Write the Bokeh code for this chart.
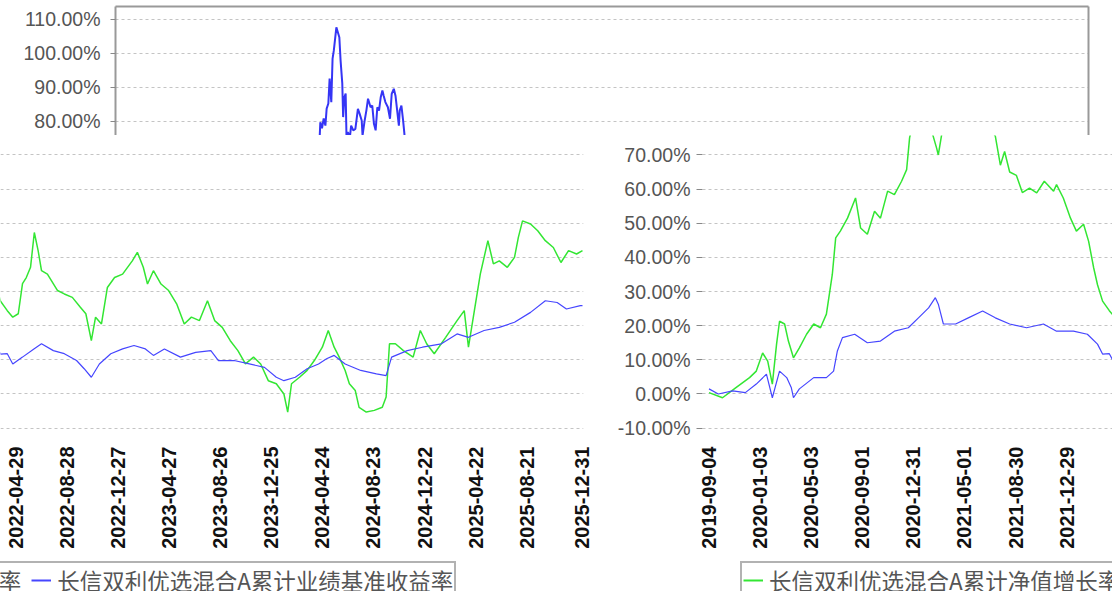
import pandas as pd
from bokeh.plotting import figure
from bokeh.layouts import column, row
from bokeh.models import (Range1d, FixedTicker, Grid, PrintfTickFormatter, LinearAxis,
                          DatetimeTickFormatter, Legend, LegendItem, ColumnDataSource)
from bokeh.embed import file_html
from bokeh.resources import INLINE

# ---------------- data ----------------
START = "2019-09-04"
NAV_NAME = "长信双利优选混合A累计净值增长率"
BM_NAME = "长信双利优选混合A累计业绩基准收益率"

tick_labels = ["2019-09-04", "2020-01-03", "2020-05-03", "2020-09-01", "2020-12-31",
               "2021-05-01", "2021-08-30", "2021-12-29", "2022-04-29", "2022-08-28",
               "2022-12-27", "2023-04-27", "2023-08-26", "2023-12-25", "2024-04-24",
               "2024-08-23", "2024-12-22", "2025-04-22", "2025-08-21", "2025-12-31"]

y_ticks = [-10, 0, 10, 20, 30, 40, 50, 60, 70]
top_ticks = [80, 90, 100, 110]

# days since START, cumulative NAV growth (%)
nav_days = [0, 32, 63, 96, 112, 127, 139, 150, 160, 167, 179, 188, 200, 214, 231, 248, 264, 278, 292, 300,
            311, 328, 347, 359, 375, 392, 406, 423, 439, 456, 468, 475, 482, 501, 525, 539, 543, 551, 584, 619,
            655, 678, 690, 700, 712, 728, 742, 759, 776, 794, 816, 823, 839, 856, 870, 887, 899, 911, 920, 932,
            948, 961, 974, 984, 993, 1003, 1012, 1021, 1029, 1043, 1067, 1083, 1102, 1121, 1134, 1147, 1157, 1171, 1185, 1202,
            1221, 1244, 1256, 1270, 1280, 1294, 1312, 1330, 1349, 1367, 1384, 1403, 1422, 1439, 1457, 1476, 1494, 1512, 1531, 1548,
            1566, 1585, 1603, 1612, 1621, 1640, 1658, 1675, 1694, 1708, 1722, 1734, 1748, 1758, 1772, 1781, 1798, 1817, 1836, 1845,
            1853, 1867, 1886, 1909, 1926, 1941, 1959, 1986, 2013, 2030, 2040, 2054, 2068, 2086, 2099, 2113, 2132, 2149, 2158, 2168,
            2187, 2204, 2222, 2241, 2259, 2277, 2296, 2310]
nav_vals = [0.4, -1.1, 1.8, 4.8, 6.7, 12.0, 9.6, 2.9, 14.6, 21.3, 20.5, 15.5, 10.6, 13.5, 17.5, 20.5, 19.4, 23.4, 35.0, 45.7,
            47.7, 51.5, 57.4, 48.6, 46.8, 53.5, 51.5, 59.4, 58.4, 62.3, 65.7, 75.0, 79.0, 82.0, 78.0, 72.0, 70.0, 76.0, 84.0, 86.0,
            80.0, 75.5, 67.0, 71.0, 65.0, 64.0, 59.0, 60.3, 58.9, 62.3, 59.4, 61.3, 57.4, 51.5, 47.7, 49.7, 44.7, 36.9, 32.0, 27.2,
            24.4, 22.5, 23.5, 32.3, 34.1, 37.1, 47.3, 42.0, 36.1, 35.1, 30.3, 29.3, 28.3, 25.4, 23.5, 15.6, 22.5, 20.5, 31.2, 34.1,
            35.1, 39.0, 41.5, 37.1, 32.2, 36.1, 32.2, 30.3, 26.4, 20.5, 22.5, 21.5, 27.3, 21.5, 19.5, 15.6, 12.7, 8.8, 10.8, 8.8,
            3.9, 3.0, 0.0, -5.3, 3.0, 4.9, 6.9, 9.8, 13.7, 18.6, 13.7, 10.8, 6.9, 3.0, 1.0, -3.9, -5.3, -4.8, -3.9, -0.9,
            14.7, 14.7, 12.7, 10.8, 18.6, 14.7, 11.8, 16.6, 21.5, 24.4, 13.7, 24.4, 35.1, 44.9, 38.1, 39.0, 37.1, 40.0, 45.8, 50.7,
            49.8, 47.8, 44.9, 42.9, 38.5, 42.0, 41.0, 42.0]

# days since START, cumulative benchmark return (%)
bm_days = [0, 22, 56, 86, 112, 136, 150, 167, 184, 195, 200, 214, 248, 278, 295, 304, 316, 345, 375, 406,
           439, 472, 496, 520, 536, 543, 555, 584, 614, 648, 678, 712, 752, 792, 823, 863, 896, 920, 932,
           948, 961, 984, 1011, 1029, 1057, 1083, 1112, 1130, 1147, 1166, 1193, 1221, 1248, 1275, 1294, 1320, 1358, 1394, 1430,
           1448, 1485, 1521, 1557, 1585, 1603, 1630, 1658, 1685, 1704, 1722, 1748, 1785, 1822, 1845, 1858, 1895, 1931, 1976, 2013,
           2040, 2077, 2113, 2149, 2187, 2222, 2250, 2272, 2305, 2310]
bm_vals = [1.5, 0.0, 0.9, 0.4, 2.9, 5.8, -1.1, 6.7, 4.8, 1.8, -1.1, 1.5, 4.8, 4.8, 6.7, 12.6, 16.5, 17.5, 15.0, 15.5,
           18.4, 19.4, 22.3, 25.2, 28.2, 26.3, 20.5, 20.5, 22.3, 24.3, 22.3, 20.5, 19.4, 20.5, 18.4, 18.4, 17.5, 14.6, 11.7,
           11.8, 8.8, 10.8, 13.2, 14.7, 12.7, 11.8, 9.8, 7.4, 4.9, 8.8, 11.8, 13.2, 14.2, 13.2, 11.3, 13.2, 10.8, 12.2, 12.7,
           9.8, 9.8, 8.8, 7.8, 4.9, 3.9, 4.9, 7.4, 8.8, 10.3, 11.3, 8.8, 6.9, 5.9, 5.4, 10.8, 12.7, 13.7, 14.7, 17.6,
           16.6, 18.6, 19.5, 21.0, 23.9, 27.3, 26.8, 24.9, 25.9, 25.9]

# upper strip: blue series (day index, %)
top_days = [483, 485, 489, 493, 497, 500, 504, 507, 511, 514, 517, 523, 530, 533, 537, 539, 542, 545, 547, 550,
            555, 558, 563, 568, 574, 578, 583, 585, 590, 594, 598, 604, 608, 612, 616, 620, 624, 628, 632, 635,
            639, 645, 650, 654, 659, 663, 667, 671, 673, 677, 681, 684, 687]
top_vals = [74.0, 79.8, 78.0, 80.9, 78.8, 83.8, 85.3, 92.6, 85.7, 98.5, 100.9, 107.7, 104.8, 97.9, 91.2, 81.3, 87.1, 88.2, 75.4, 76.9,
            75.4, 78.8, 77.4, 77.8, 83.7, 82.3, 80.3, 75.9, 80.3, 83.2, 86.7, 84.2, 84.7, 79.3, 77.4, 84.2, 83.2, 87.1, 89.1, 87.6,
            85.7, 84.2, 80.8, 88.1, 89.6, 87.6, 83.2, 78.8, 83.2, 84.7, 80.3, 76.5, 72.0]

# ---------------- styles ----------------
GREEN = "#33e633"
BLUE = "#4646ff"
GRID_C = "#c4c4c4"
LABEL_C = "#555555"
FRAME_C = "#999999"
base = pd.Timestamp(START)
nav_src = ColumnDataSource(dict(x=base + pd.to_timedelta(nav_days, unit="D"), y=nav_vals))
bm_src = ColumnDataSource(dict(x=base + pd.to_timedelta(bm_days, unit="D"), y=bm_vals))
tick_ms = [pd.Timestamp(t).value // 10**6 for t in tick_labels]
FMT = "%Y-%m-%d"
COMMON = dict(output_backend="svg", toolbar_location=None)


def strip_grids(p):
    p.center = [r for r in p.center if not isinstance(r, Grid)]


def add_ygrid(p, ticks):
    p.add_layout(Grid(dimension=1, ticker=FixedTicker(ticks=ticks), grid_line_color=GRID_C,
                      grid_line_dash="3 3", grid_line_width=1))


def style_yaxis(ax, ticks):
    ax.ticker = FixedTicker(ticks=ticks)
    ax.formatter = PrintfTickFormatter(format="%.2f%%")
    ax.major_label_text_font = "Liberation Sans"
    ax.major_label_text_font_size = "19.5px"
    ax.major_label_text_color = LABEL_C
    ax.minor_tick_line_color = None
    ax.major_tick_line_color = "#888888"
    ax.major_tick_in = 0
    ax.major_tick_out = 6


def line_only(ax):
    ax.ticker = FixedTicker(ticks=[])
    ax.axis_line_color = FRAME_C
    ax.axis_line_width = 2
    ax.major_tick_line_color = None
    ax.minor_tick_line_color = None
    ax.major_tick_in = 0
    ax.major_tick_out = 0
    ax.major_label_text_color = None


def style_xaxis(ax):
    ax.ticker = FixedTicker(ticks=tick_ms)
    ax.formatter = DatetimeTickFormatter(microseconds=FMT, milliseconds=FMT, seconds=FMT, minsec=FMT,
                                         minutes=FMT, hourmin=FMT, hours=FMT, days=FMT, months=FMT, years=FMT)
    ax.major_label_orientation = 3.14159265 / 2
    ax.major_label_text_font = "Liberation Sans"
    ax.major_label_text_font_style = "bold"
    ax.major_label_text_font_size = "20px"
    ax.major_label_text_color = "#111111"
    ax.axis_line_color = None
    ax.major_tick_line_color = None
    ax.minor_tick_line_color = None
    ax.major_tick_out = 0
    ax.major_tick_in = 0
    ax.major_label_standoff = 13


def legend_strip(width, loc):
    s = figure(width=width, height=32, x_range=Range1d(0, 1), y_range=Range1d(0, 1),
               x_axis_location=None, y_axis_location=None,
               min_border_left=0, min_border_right=0, min_border_top=0, min_border_bottom=0, **COMMON)
    strip_grids(s)
    s.outline_line_color = None
    rn = s.line("x", "y", source=nav_src, line_color=GREEN, line_width=2)
    rb = s.line("x", "y", source=bm_src, line_color=BLUE, line_width=2)
    lg = Legend(items=[LegendItem(label=NAV_NAME, renderers=[rn]),
                       LegendItem(label=BM_NAME, renderers=[rb])],
                orientation="horizontal", location=loc, margin=0, padding=1, spacing=10,
                glyph_width=20, glyph_height=20, label_standoff=6,
                label_text_font="Noto Sans CJK SC", label_text_font_size="22.5px",
                label_text_color=LABEL_C, border_line_color="#666666", border_line_width=2,
                background_fill_color="white", background_fill_alpha=1.0)
    s.add_layout(lg)
    return s


# ---------------- upper strip ----------------
top = figure(width=1112, height=135, x_range=Range1d(0, 2304), y_range=Range1d(75.88, 113.82),
             x_axis_location="above", y_axis_location="left",
             min_border_left=115, min_border_right=24, min_border_top=6, min_border_bottom=0, **COMMON)
strip_grids(top)
add_ygrid(top, top_ticks)
line_only(top.xaxis[0])
style_yaxis(top.yaxis[0], top_ticks)
top.yaxis[0].axis_line_color = FRAME_C
top.yaxis[0].axis_line_width = 2
top.yaxis[0].major_tick_out = 5
top.yaxis[0].major_label_standoff = 10
right_edge = LinearAxis()
line_only(right_edge)
top.add_layout(right_edge, "right")
top.outline_line_color = None
top.line(top_days, top_vals, line_color="#3535f5", line_width=2)

# ---------------- lower left: 2022-2025 ----------------
left = figure(width=590, height=424, x_axis_type="datetime", y_axis_location=None,
              x_range=Range1d(base + pd.Timedelta(days=931.9), base + pd.Timedelta(days=2312.4)),
              y_range=Range1d(-11.57, 75.70),
              min_border_left=0, min_border_right=7, min_border_top=0, min_border_bottom=126, **COMMON)
strip_grids(left)
add_ygrid(left, y_ticks)
style_xaxis(left.xaxis[0])
left.outline_line_color = None
left.line("x", "y", source=nav_src, line_color=GREEN, line_width=1.5)
left.line("x", "y", source=bm_src, line_color=BLUE, line_width=1.2)

# ---------------- lower right: 2019-2022 ----------------
right = figure(width=522, height=424, x_axis_type="datetime", y_axis_location="left",
               x_range=Range1d(base - pd.Timedelta(days=15.4), base + pd.Timedelta(days=955.5)),
               y_range=Range1d(-11.57, 75.70),
               min_border_left=112, min_border_right=0, min_border_top=0, min_border_bottom=126, **COMMON)
strip_grids(right)
add_ygrid(right, y_ticks)
style_xaxis(right.xaxis[0])
style_yaxis(right.yaxis[0], y_ticks)
right.yaxis[0].axis_line_color = None
right.yaxis[0].major_label_standoff = 6
right.outline_line_color = None
right.line("x", "y", source=nav_src, line_color=GREEN, line_width=1.5)
right.line("x", "y", source=bm_src, line_color=BLUE, line_width=1.2)

# ---------------- legend strips ----------------
leg_left = legend_strip(590, (-359, -7.5))
leg_right = legend_strip(522, (150, -7.5))

layout = column(top, row(left, right), row(leg_left, leg_right))
open("out.html", "w").write(file_html(layout, INLINE))
